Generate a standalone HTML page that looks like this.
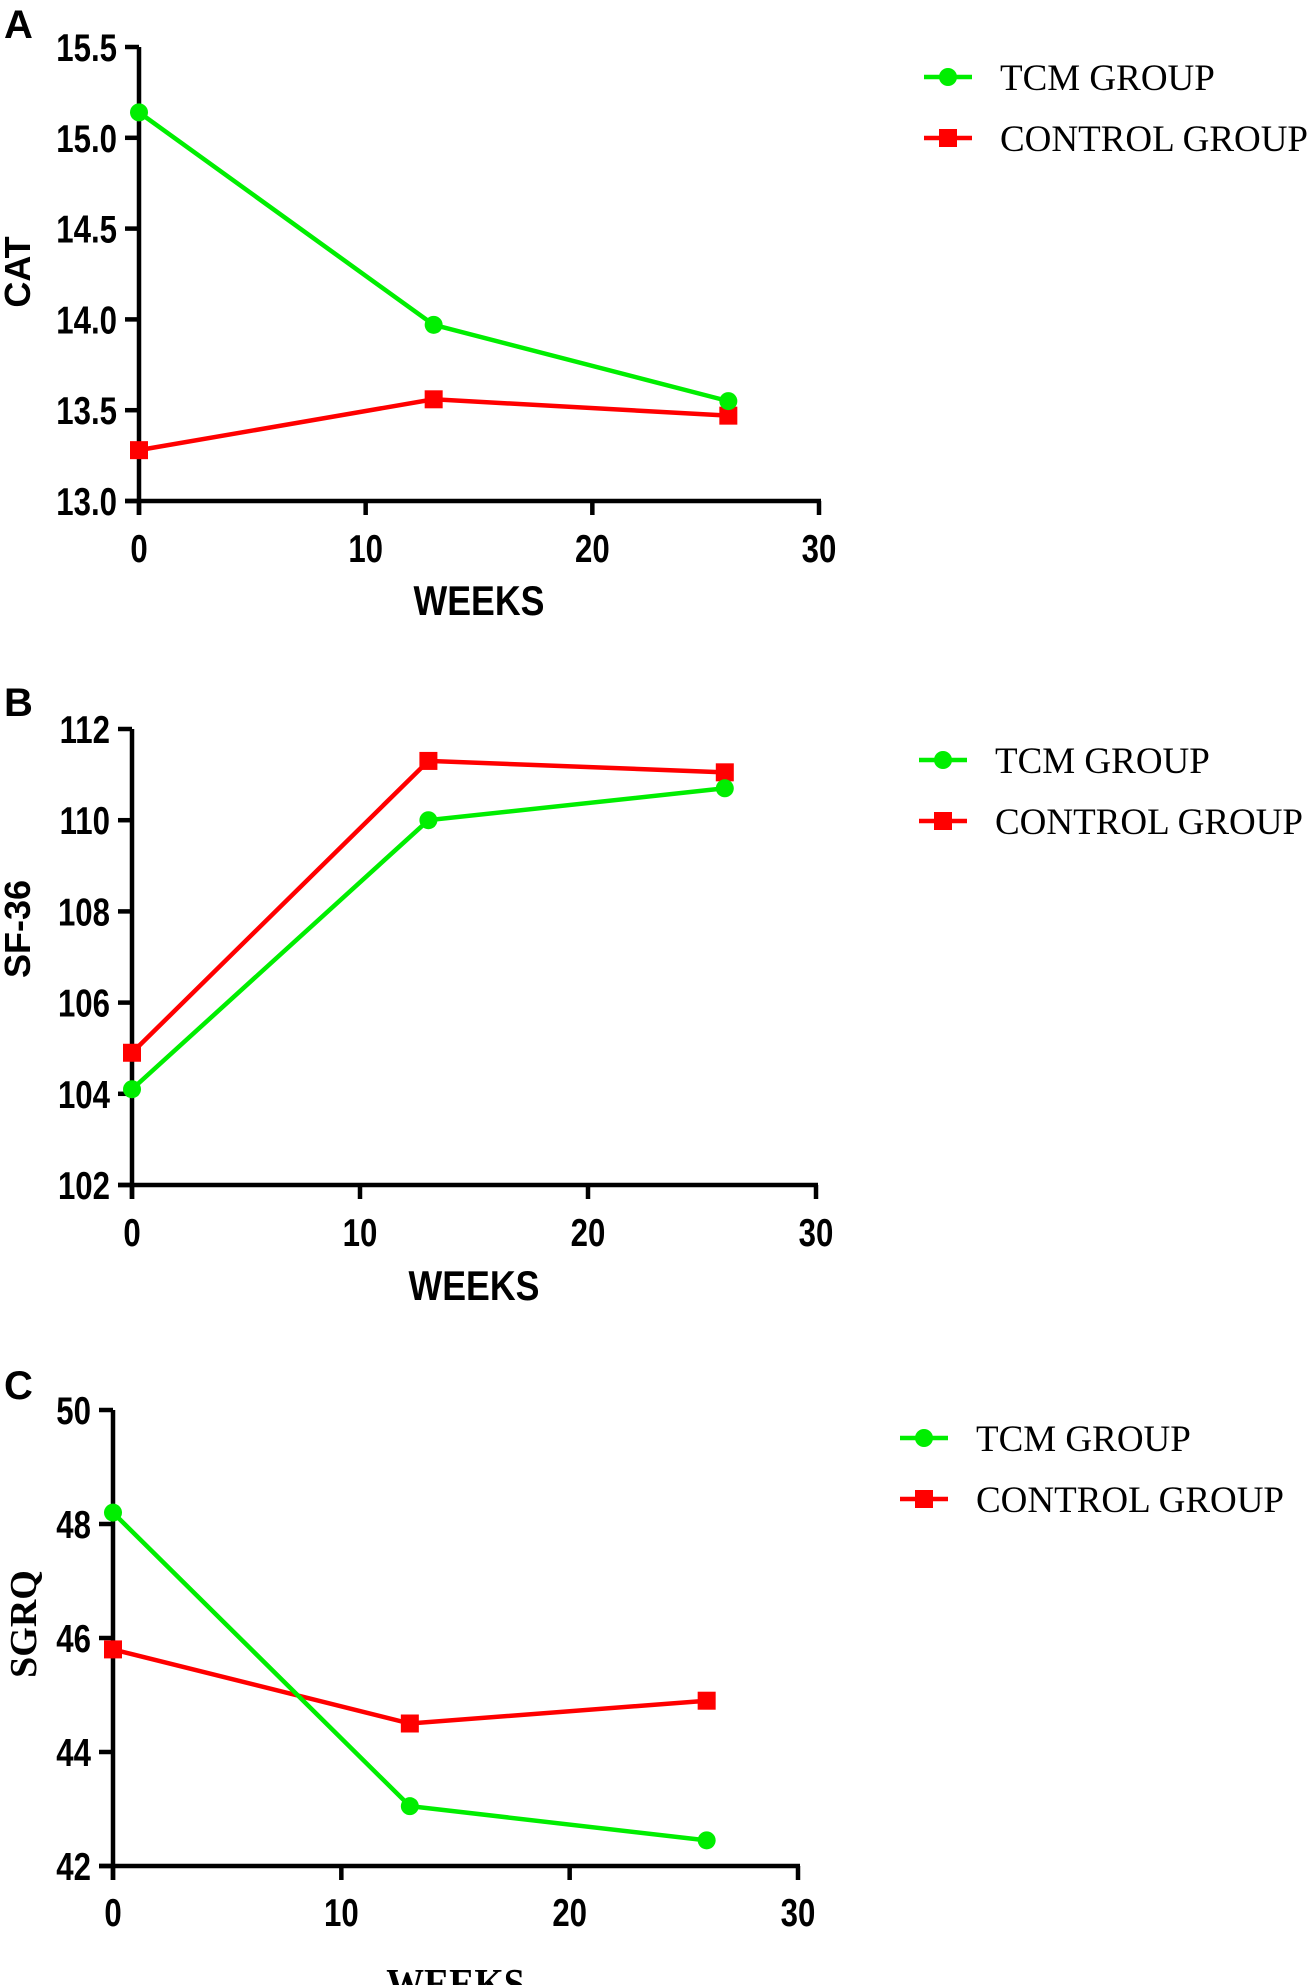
<!DOCTYPE html>
<html><head><meta charset="utf-8"><style>
html,body{margin:0;padding:0;background:#fff;}
svg{display:block;}
</style></head><body>
<svg id="fig" width="1315" height="1985" viewBox="0 0 1315 1985" xmlns="http://www.w3.org/2000/svg"></svg>
<script>
const weeks = [0, 13, 26];
const xTicks = [0, 10, 20, 30];
const catTcm = [15.14, 13.97, 13.55];
const catControl = [13.28, 13.56, 13.47];
const catTicks = ["13.0", "13.5", "14.0", "14.5", "15.0", "15.5"];
const sfTcm = [104.1, 110.0, 110.7];
const sfControl = [104.9, 111.3, 111.05];
const sfTicks = ["102", "104", "106", "108", "110", "112"];
const sgTcm = [48.2, 43.05, 42.45];
const sgControl = [45.8, 44.5, 44.9];
const sgTicks = ["42", "44", "46", "48", "50"];
const legendLabels = ["TCM GROUP", "CONTROL GROUP"];

const NS = "http://www.w3.org/2000/svg";
const svg = document.getElementById('fig');
function mk(tag, attrs, parent, text){
  const e = document.createElementNS(NS, tag);
  for (const k in attrs) e.setAttribute(k, attrs[k]);
  if (text !== undefined) e.textContent = text;
  (parent || svg).appendChild(e);
  return e;
}
function ctext(parent, x, y, anchor, size, sx, str, family){
  return mk('text', {x:0, y:0, transform:'translate('+x+' '+y+') scale('+sx+' 1)', 'text-anchor':anchor,
    'font-family': family || 'Liberation Sans, sans-serif', 'font-weight':'bold', 'font-size':size}, parent, str);
}

const panels = [
  {id:'a', letter:'A', ly:38, x0:139, x1:819, yTop:47, yBot:501, ticks:catTicks, tcm:catTcm, ctl:catControl,
   ylabel:'CAT', ylx:30, yly:272, ylSerif:false, tickBase:562, wkBase:615, wkSerif:false, legX:924, legY:77},
  {id:'b', letter:'B', ly:716, x0:132, x1:816, yTop:729, yBot:1185, ticks:sfTicks, tcm:sfTcm, ctl:sfControl,
   ylabel:'SF-36', ylx:30, yly:929, ylSerif:false, tickBase:1246, wkBase:1300, wkSerif:false, legX:919, legY:760},
  {id:'c', letter:'C', ly:1399, x0:113, x1:798, yTop:1410, yBot:1866, ticks:sgTicks, tcm:sgTcm, ctl:sgControl,
   ylabel:'SGRQ', ylx:36, yly:1624, ylSerif:true, tickBase:1926, wkBase:1998, wkSerif:true, legX:900, legY:1438}
];

panels.forEach(p => {
  const g = mk('g', {});
  
  
  const ymin = parseFloat(p.ticks[0]), ymax = parseFloat(p.ticks[p.ticks.length-1]);
  const xs = v => p.x0 + (v - xTicks[0]) / (xTicks[xTicks.length-1] - xTicks[0]) * (p.x1 - p.x0);
  const ys = v => p.yBot - (v - ymin) / (ymax - ymin) * (p.yBot - p.yTop);

  const pl = mk('text', {x:4, y:p.ly, 'font-family':'Liberation Sans, sans-serif', 'font-weight':'bold', 'font-size':40}, g, p.letter);
  
  

  const ya = mk('line', {x1:p.x0, y1:p.yTop, x2:p.x0, y2:p.yBot+14, stroke:'#000', 'stroke-width':4.5}, g);
  
  
  const xa = mk('line', {x1:p.x0-14, y1:p.yBot, x2:p.x1+2, y2:p.yBot, stroke:'#000', 'stroke-width':4.5}, g);
  
  

  p.ticks.forEach(t => {
    const y = ys(parseFloat(t));
    mk('line', {x1:p.x0-14, y1:y, x2:p.x0, y2:y, stroke:'#000', 'stroke-width':4.5}, g);
    const tl = ctext(g, p.x0-22, y+14, 'end', 39, 0.8, t);
    
    
  });
  xTicks.forEach(t => {
    const x = xs(t);
    mk('line', {x1:x, y1:p.yBot, x2:x, y2:p.yBot+14, stroke:'#000', 'stroke-width':4.5}, g);
    const tl = ctext(g, x, p.tickBase, 'middle', 39, 0.8, String(t));
    
    
  });

  const wk = p.wkSerif
    ? ctext(g, (p.x0+p.x1)/2, p.wkBase, 'middle', 42, 0.9, 'WEEKS', 'Liberation Serif, serif')
    : ctext(g, (p.x0+p.x1)/2, p.wkBase, 'middle', 42, 0.85, 'WEEKS');
  
  

  const yl = mk('text', {x:p.ylx, y:p.yly, 'text-anchor':'middle', transform:'rotate(-90 '+p.ylx+' '+p.yly+')',
    'font-family': p.ylSerif ? 'Liberation Serif, serif' : 'Liberation Sans, sans-serif', 'font-weight':'bold', 'font-size': p.ylSerif ? 38 : 36}, g, p.ylabel);
  
  

  const ctlPts = weeks.map((w,i)=>xs(w)+','+ys(p.ctl[i])).join(' ');
  const tcmPts = weeks.map((w,i)=>xs(w)+','+ys(p.tcm[i])).join(' ');
  const lc = mk('polyline', {points:ctlPts, fill:'none', stroke:'#ff0000', 'stroke-width':4.5}, g);
  
  
  const lt = mk('polyline', {points:tcmPts, fill:'none', stroke:'#00ee00', 'stroke-width':4.5}, g);
  
  
  weeks.forEach((w,i) => {
    const sq = mk('rect', {x:xs(w)-9, y:ys(p.ctl[i])-9, width:18, height:18, fill:'#ff0000'}, g);
    
    
  });
  weeks.forEach((w,i) => {
    const c = mk('circle', {cx:xs(w), cy:ys(p.tcm[i]), r:9, fill:'#00ee00'}, g);
    
    
  });

  legendLabels.forEach((lab, i) => {
    const ly = p.legY + i*61;
    const le = mk('g', {}, g);
    
    
    const col = i === 0 ? '#00ee00' : '#ff0000';
    mk('line', {x1:p.legX, y1:ly, x2:p.legX+48, y2:ly, stroke:col, 'stroke-width':4.5}, le);
    if (i === 0) mk('circle', {cx:p.legX+24, cy:ly, r:9, fill:col}, le);
    else mk('rect', {x:p.legX+15, y:ly-9, width:18, height:18, fill:col}, le);
    mk('text', {x:p.legX+76, y:ly+13, 'font-family':'Liberation Serif, serif', 'font-size':37}, le, lab);
  });
});
</script>
</body></html>
